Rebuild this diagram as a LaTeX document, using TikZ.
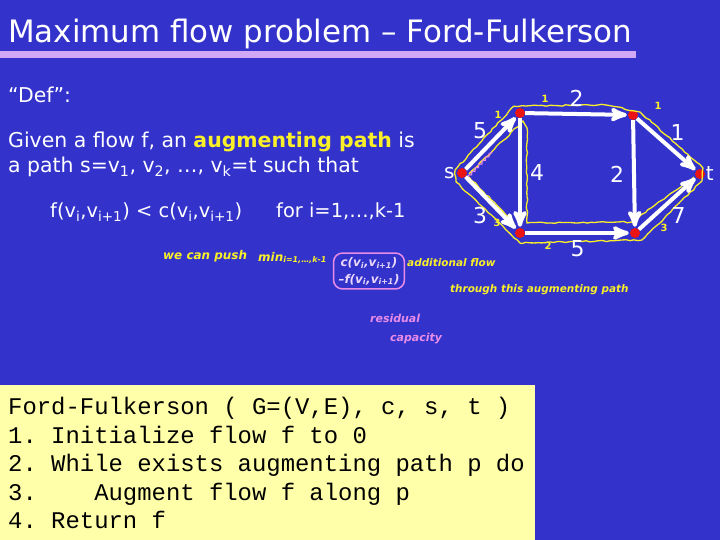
\documentclass[tikz,border=0pt]{standalone}
\usepackage{fontspec}
\setmainfont{DejaVu Sans}
\setmonofont{Liberation Mono}
\usetikzlibrary{arrows,shapes,positioning,decorations.pathmorphing}
\definecolor{slideblue}{RGB}{51,51,204}
\definecolor{barlilac}{RGB}{208,168,245}
\definecolor{boxyellow}{RGB}{255,255,170}
\definecolor{penyellow}{RGB}{250,240,40}
\definecolor{penpink}{RGB}{232,140,232}
\definecolor{penpale}{RGB}{235,215,250}
\definecolor{dotred}{RGB}{235,20,20}

\begin{document}
\begin{tikzpicture}[x=1bp,y=-1bp,>=stealth']
  \tikzstyle{title}=[anchor=base west,inner sep=0,text=white,font=\fontsize{31}{34}\selectfont]
  \tikzstyle{body}=[anchor=base west,inner sep=0,text=white,font=\fontsize{20.5}{23}\selectfont]
  \tikzstyle{code}=[anchor=base west,inner sep=0,text=black,font=\ttfamily\fontsize{24}{26}\selectfont]
  \tikzstyle{vertex}=[circle,fill=dotred,inner sep=0,minimum size=10bp]
  \tikzstyle{weight}=[text=white,font=\fontsize{22}{24}\selectfont,inner sep=2bp]
  \tikzstyle{flow}=[->,white,line width=4bp,shorten >=1bp]
  \tikzstyle{pen}=[anchor=west,inner sep=0,text=penyellow,font=\bfseries\itshape\fontsize{10.5}{12}\selectfont]
  \tikzstyle{pinkpen}=[pen,text=penpink,font=\bfseries\itshape\fontsize{11}{12}\selectfont]
  \tikzstyle{tick}=[pen,anchor=center,font=\bfseries\fontsize{10}{11}\selectfont]
  \tikzstyle{hilite}=[draw=penyellow,line width=1.3bp,decorate,decoration={random steps,segment length=4bp,amplitude=0.7bp}]

  \useasboundingbox (0,0) rectangle (720,540);
  \fill[slideblue] (0,0) rectangle (720,540);
  \fill[barlilac] (0,51) rectangle (636,58);
  \fill[boxyellow] (0,385) rectangle (535,540);

  % slide text
  \node [title] (head) at (8,43) {Maximum flow problem – Ford-Fulkerson};
  \node [body] (def) at (8,103) {“Def”:};
  \node [body] (given) at (8,148) {Given a flow f, an \textcolor{penyellow}{\bfseries augmenting path} is};
  \node [body] (path) at (8,173) {a path s=v\textsubscript{1}, v\textsubscript{2}, …, v\textsubscript{k}=t such that};
  \node [body,font=\fontsize{19.5}{22}\selectfont] (cond) at (50,218) {f(v\textsubscript{i},v\textsubscript{i+1}) < c(v\textsubscript{i},v\textsubscript{i+1})};
  \node [body,font=\fontsize{19.5}{22}\selectfont] (range) at (276,218) {for i=1,…,k-1};

  % the algorithm box
  \node [code] (line0) at (8,414) {Ford-Fulkerson ( G=(V,E), c, s, t )};
  \node [code] (line1) at (8,443) {1. Initialize flow f to 0};
  \node [code] (line2) at (8,471) {2. While exists augmenting path p do};
  \node [code] (line3) at (8,500) {3.\ \ \ \ Augment flow f along p};
  \node [code] (line4) at (8,528) {4. Return f};

  % the network
  \begin{scope}
    \node [vertex,label={[weight,font=\fontsize{20}{22}\selectfont]left:s}] (s) at (462,173) {};
    \node [vertex] (a) at (520,113) {};
    \node [vertex] (b) at (633,115) {};
    \node [vertex,label={[weight,font=\fontsize{20}{22}\selectfont,inner sep=0.5bp]right:t}] (t) at (700,174) {};
    \node [vertex] (c) at (520,233) {};
    \node [vertex] (d) at (635,233) {};
  \end{scope}

  % hand-drawn marks
  \draw [hilite] (455,170) -- (514,106) -- (606,105) -- (640,112) -- (703,168) -- (702,181)
    -- (642,240) -- (520,243) -- (456,182) -- (455,170);
  \draw [hilite] (469,174) -- (523,121) -- (527,128) -- (527,223) -- (632,222) -- (694,177);
  \draw [hilite] (469,177) -- (514,223);
  \draw [penpink,line width=1.2bp,decorate,decoration={snake,amplitude=1bp,segment length=5bp}]
    (468,177) -- (492,152);

  \begin{scope}
    \path [flow] (s) edge node [weight,above left] {5} (a);
    \path [flow] (a) edge node [weight,above=3bp] {2} (b);
    \path [flow] (b) edge node [weight,above right] {1} (t);
    \path [flow] (s) edge node [weight,below left] {3} (c);
    \path [flow] (a) edge node [weight,right=6bp] {4} (c);
    \path [flow] (c) edge node [weight,below=4bp] {5} (d);
    \path [flow] (b) edge node [weight,left=6bp] {2} (d);
    \path [flow] (d) edge node [weight,below right] {7} (t);
  \end{scope}

  \node [tick] (t1) at (545,99) {1};
  \node [tick] (t2) at (498,115) {1};
  \node [tick] (t3) at (658,106) {1};
  \node [tick] (t4) at (497,223) {3};
  \node [tick] (t5) at (548,246) {2};
  \node [tick] (t6) at (664,228) {3};

  % annotation
  \node [pen,font=\bfseries\itshape\fontsize{12}{13}\selectfont] (push) at (163,256) {we can push};
  \node [pen,font=\bfseries\itshape\fontsize{12}{13}\selectfont] (mini) at (258,258) {min\textsubscript{i=1,…,k-1}};
  \node [draw=penpink,line width=1.5bp,rounded corners=9bp,inner xsep=5bp,inner ysep=4bp,align=center,
    text=penpale,font=\bfseries\itshape\fontsize{12}{17}\selectfont] (resid) at (369,271)
    {c(v\textsubscript{i},v\textsubscript{i+1})\\–f(v\textsubscript{i},v\textsubscript{i+1})};
  \node [pen] (extra) at (407,263) {additional flow};
  \node [pen] (through) at (450,290) {through this augmenting path};
  \node [pinkpen] (res1) at (370,318) {residual};
  \node [pinkpen] (res2) at (390,339) {capacity};
\end{tikzpicture}
\end{document}
